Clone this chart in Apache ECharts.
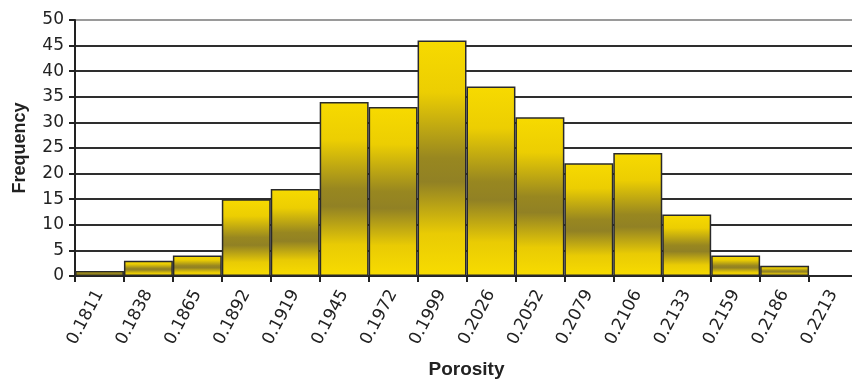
<!DOCTYPE html>
<html>
<head>
<meta charset="utf-8">
<script src="https://cdn.jsdelivr.net/npm/echarts@6/dist/echarts.min.js"></script>
<style>html,body{margin:0;padding:0;background:#fff}#c{width:852px;height:383px}</style>
</head>
<body>
<div id="c"></div>
<script>
const categories = ['0.1811','0.1838','0.1865','0.1892','0.1919','0.1945','0.1972','0.1999','0.2026','0.2052','0.2079','0.2106','0.2133','0.2159','0.2186','0.2213'];
const frequency = [1,3,4,15,17,34,33,46,37,31,22,24,12,4,2,0];
const yTicks = { min: 0, max: 50, interval: 5 };

const FONT = '"Liberation Sans", Arial, sans-serif';
const NUMFONT = '"DejaVu Sans", sans-serif';
const chart = echarts.init(document.getElementById('c'));
const gridColors = [];
for (let i = 0; i <= 10; i++) gridColors.push(i === 10 ? '#9a9a9a' : '#2e2e2e');

chart.setOption({
  animation: false,
  backgroundColor: '#fff',
  grid: { left: 75, right: -6, top: 20, bottom: 107, containLabel: false, outerBoundsMode: 'none' },
  xAxis: {
    type: 'category',
    data: categories,
    boundaryGap: true,
    name: 'Porosity',
    nameLocation: 'middle',
    nameGap: 84,
    nameTextStyle: { fontFamily: FONT, fontWeight: 'bold', fontSize: 19, color: '#222' },
    axisLine: { lineStyle: { color: '#222', width: 2 } },
    axisTick: { show: true, length: 6, lineStyle: { color: '#222', width: 2 } },
    axisLabel: { rotate: 62, margin: 15, fontFamily: NUMFONT, fontSize: 17, color: '#222', interval: 0 },
    splitLine: { show: false }
  },
  yAxis: {
    type: 'value',
    min: yTicks.min, max: yTicks.max, interval: yTicks.interval,
    name: 'Frequency',
    nameLocation: 'middle',
    nameGap: 46,
    nameTextStyle: { fontFamily: FONT, fontWeight: 'bold', fontSize: 18, color: '#222' },
    axisLine: { show: true, lineStyle: { color: '#222', width: 2 } },
    axisTick: { show: true, length: 6, lineStyle: { color: '#222', width: 2 } },
    axisLabel: { margin: 11, fontFamily: NUMFONT, fontSize: 17, color: '#222' },
    splitLine: { show: true, lineStyle: { color: gridColors, width: 2 } }
  },
  series: [{
    type: 'bar',
    data: frequency,
    barCategoryGap: 0,
    barGap: 0,
    itemStyle: {
      borderColor: '#2a2a2a',
      borderWidth: 1.5,
      color: new echarts.graphic.LinearGradient(0, 0, 0, 1, [
        { offset: 0, color: '#f7da00' },
        { offset: 0.22, color: '#ecce02' },
        { offset: 0.5, color: '#988720' },
        { offset: 0.6, color: '#918124' },
        { offset: 0.82, color: '#e9cb04' },
        { offset: 1, color: '#f8dc00' }
      ])
    }
  }]
});
</script>
</body>
</html>
